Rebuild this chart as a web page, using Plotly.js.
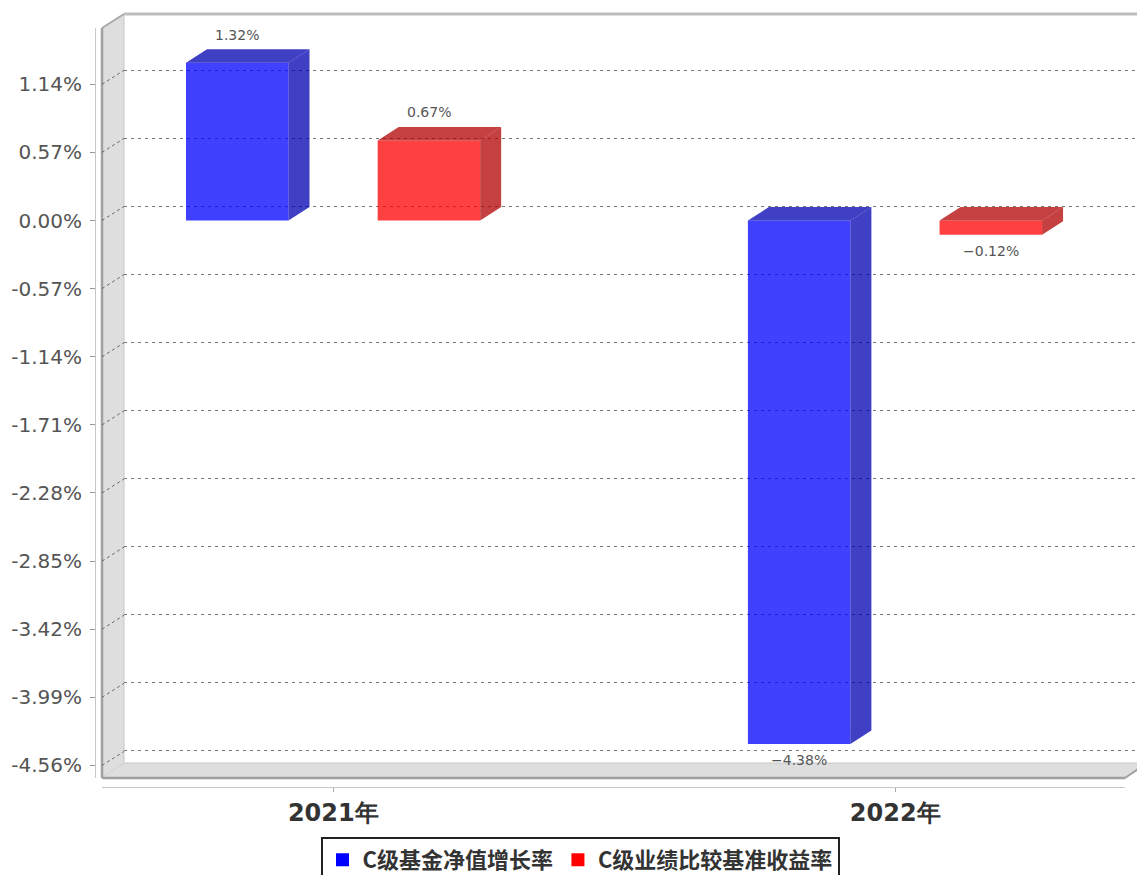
<!DOCTYPE html>
<html>
<head>
<meta charset="utf-8">
<script src="https://cdn.plot.ly/plotly-3.0.1.min.js"></script>
<style>
html,body{margin:0;padding:0;background:#fff;}
#chart{width:1137px;height:875px;}
</style>
</head>
<body>
<div id="chart"></div>
<script>
// ---------- data ----------
const categories = ['2021年', '2022年'];
const seriesNames = ['C级基金净值增长率', 'C级业绩比较基准收益率'];
const fundGrowth = [1.32, -4.38];
const benchmark = [0.67, -0.12];
const tickValues = [1.14, 0.57, 0.00, -0.57, -1.14, -1.71, -2.28, -2.85, -3.42, -3.99, -4.56];

// ---------- geometry / style ----------
const W = 1137, H = 875;
const front = {x0: 102, x1: 1125, y0: 28, y1: 778};
const back = {x0: 124, x1: 1137, y0: 14, y1: 763};
const xRange = [-0.4116, 1.409];
const yRange = [-4.665, 1.611];
const barWidth = 0.1824;
const barOffsets = [-0.2621, 0.079];
const frontColors = ['rgba(0,0,255,0.75)', 'rgba(255,0,0,0.75)'];
const faceColors = ['rgba(0,0,178,0.75)', 'rgba(178,0,0,0.75)'];
const legendColors = ['#0000ff', '#ff0000'];
const barDepthPx = {x: 21, y: 13.5};
const wallDepthPx = {x: back.x0 - front.x0, y: front.y0 - back.y0};

const px = v => v / W;
const py = v => 1 - v / H;
const pxPerX = (front.x1 - front.x0) / (xRange[1] - xRange[0]);
const pxPerY = (front.y1 - front.y0) / (yRange[1] - yRange[0]);
const dX = barDepthPx.x / pxPerX;
const dY = barDepthPx.y / pxPerY;
const wallDY = wallDepthPx.y / pxPerY;

const fmtTick = v => v.toFixed(2) + '%';
const fmtLabel = v => (v < 0 ? '\u2212' : '') + Math.abs(v).toFixed(2) + '%';

const series = [fundGrowth, benchmark];
const xIdx = categories.map((c, i) => i);

const traces = [];
// invisible trace on the back-wall subplot (gridlines)
traces.push({type: 'scatter', x: [], y: [], xaxis: 'x', yaxis: 'y', showlegend: false, hoverinfo: 'skip'});

series.forEach((vals, s) => {
  traces.push({
    type: 'bar', name: seriesNames[s], x: xIdx, y: vals,
    xaxis: 'x2', yaxis: 'y2',
    width: barWidth, offset: barOffsets[s],
    marker: {color: frontColors[s], line: {width: 0}},
    showlegend: false, hoverinfo: 'skip'
  });
});
series.forEach((vals, s) => {
  traces.push({
    type: 'scatter', mode: 'markers', name: seriesNames[s], x: [null], y: [null],
    xaxis: 'x2', yaxis: 'y2',
    marker: {symbol: 'square', size: 13, color: legendColors[s]},
    hoverinfo: 'skip'
  });
});

const shapes = [];
// 3D wall & floor
const poly = pts => 'M ' + pts.map(p => px(p[0]) + ',' + py(p[1])).join(' L ') + ' Z';
shapes.push({type: 'path', xref: 'paper', yref: 'paper', layer: 'below',
  path: poly([[front.x0, front.y0], [back.x0, back.y0], [back.x0, back.y1], [front.x0, front.y1]]),
  fillcolor: '#dedede', line: {width: 0}});
shapes.push({type: 'path', xref: 'paper', yref: 'paper', layer: 'below',
  path: poly([[front.x0, front.y1], [back.x0, back.y1], [front.x1 + wallDepthPx.x, back.y1], [front.x1, front.y1]]),
  fillcolor: '#dedede', line: {width: 0}});
const pline = (x0, y0, x1, y1, color, width) => shapes.push({type: 'line', xref: 'paper', yref: 'paper', layer: 'below',
  x0: px(x0), y0: py(y0), x1: px(x1), y1: py(y1), line: {color: color, width: width}});
pline(back.x0, back.y0, back.x0, back.y1, '#c8c8c8', 1);
pline(back.x0, back.y1, front.x1 + wallDepthPx.x, back.y1, '#c8c8c8', 1);
pline(front.x0, front.y1, back.x0, back.y1, '#cfcfcf', 1);
pline(front.x0, front.y0, back.x0, back.y0, '#a8a8a8', 2);
pline(back.x0, back.y0, W + 5, back.y0, '#bdbdbd', 3);
pline(front.x0, front.y0, front.x0, front.y1, '#a0a0a0', 2.5);
pline(front.x0, front.y1, front.x1, front.y1, '#a0a0a0', 2.5);
pline(front.x1, front.y1, front.x1 + wallDepthPx.x, back.y1, '#a0a0a0', 2);

// dotted tick connectors on the side wall
tickValues.forEach(tv => {
  shapes.push({type: 'line', xref: 'paper', yref: 'y2', layer: 'below',
    x0: px(front.x0), y0: tv, x1: px(back.x0), y1: tv + wallDY,
    line: {color: '#666', width: 1, dash: '3px,3px'}});
});

// bar top & side faces
series.forEach((vals, s) => {
  vals.forEach((v, i) => {
    const x0 = i + barOffsets[s], x1 = x0 + barWidth;
    const top = Math.max(v, 0), bot = Math.min(v, 0);
    shapes.push({type: 'path', xref: 'x2', yref: 'y2', layer: 'above',
      path: `M ${x0},${top} L ${x1},${top} L ${x1 + dX},${top + dY} L ${x0 + dX},${top + dY} Z`,
      fillcolor: faceColors[s], line: {width: 0}});
    shapes.push({type: 'path', xref: 'x2', yref: 'y2', layer: 'above',
      path: `M ${x1},${top} L ${x1 + dX},${top + dY} L ${x1 + dX},${bot + dY} L ${x1},${bot} Z`,
      fillcolor: faceColors[s], line: {width: 0}});
  });
});

// value labels
const annotations = [];
series.forEach((vals, s) => {
  vals.forEach((v, i) => {
    annotations.push({
      xref: 'x2', yref: 'y2', x: i + barOffsets[s] + barWidth / 2, y: v,
      text: fmtLabel(v), showarrow: false,
      yanchor: v >= 0 ? 'bottom' : 'top', yshift: v >= 0 ? 18 : -6,
      font: {family: 'DejaVu Sans', size: 14, color: '#555'}
    });
  });
});

const layout = {
  width: W, height: H,
  margin: {l: 0, r: 0, t: 0, b: 0, autoexpand: false},
  paper_bgcolor: '#fff', plot_bgcolor: 'rgba(0,0,0,0)',
  barmode: 'overlay',
  showlegend: true,
  legend: {
    orientation: 'h', x: px(580), xanchor: 'center', y: py(837), yanchor: 'top',
    bordercolor: '#222', borderwidth: 2, bgcolor: '#fff',
    font: {family: 'Noto Sans CJK SC', size: 22, color: '#333', weight: 'bold'},
    itemclick: false, itemdoubleclick: false
  },
  // back wall (gridlines only)
  xaxis: {domain: [px(back.x0), 1], range: xRange, visible: false, fixedrange: true},
  yaxis: {domain: [py(back.y1), py(back.y0)], range: yRange, anchor: 'x',
    tickmode: 'array', tickvals: tickValues, showticklabels: false, ticks: '',
    showgrid: true, gridcolor: '#777', gridwidth: 1, griddash: '3px,4px',
    zeroline: false, showline: false, fixedrange: true},
  // front plane (bars, ticks, labels)
  xaxis2: {domain: [px(front.x0), px(front.x1)], range: xRange, anchor: 'free', position: py(787),
    tickmode: 'array', tickvals: xIdx, ticktext: categories,
    showgrid: false, zeroline: false, showline: true, linecolor: '#c8c8c8', linewidth: 1,
    ticks: 'outside', ticklen: 4, tickcolor: '#aaa',
    tickfont: {family: 'DejaVu Sans', size: 24, color: '#333', weight: 'bold'}, fixedrange: true},
  yaxis2: {domain: [py(front.y1), py(front.y0)], range: yRange, anchor: 'free', position: px(95),
    tickmode: 'array', tickvals: tickValues, ticktext: tickValues.map(fmtTick),
    showgrid: false, zeroline: false, showline: true, linecolor: '#c8c8c8', linewidth: 1,
    ticks: 'outside', ticklen: 5, tickcolor: '#999', ticklabelstandoff: 4,
    tickfont: {family: 'DejaVu Sans', size: 20, color: '#555'}, fixedrange: true},
  shapes: shapes,
  annotations: annotations
};

Plotly.newPlot('chart', traces, layout, {displayModeBar: false, staticPlot: true});
</script>
</body>
</html>
